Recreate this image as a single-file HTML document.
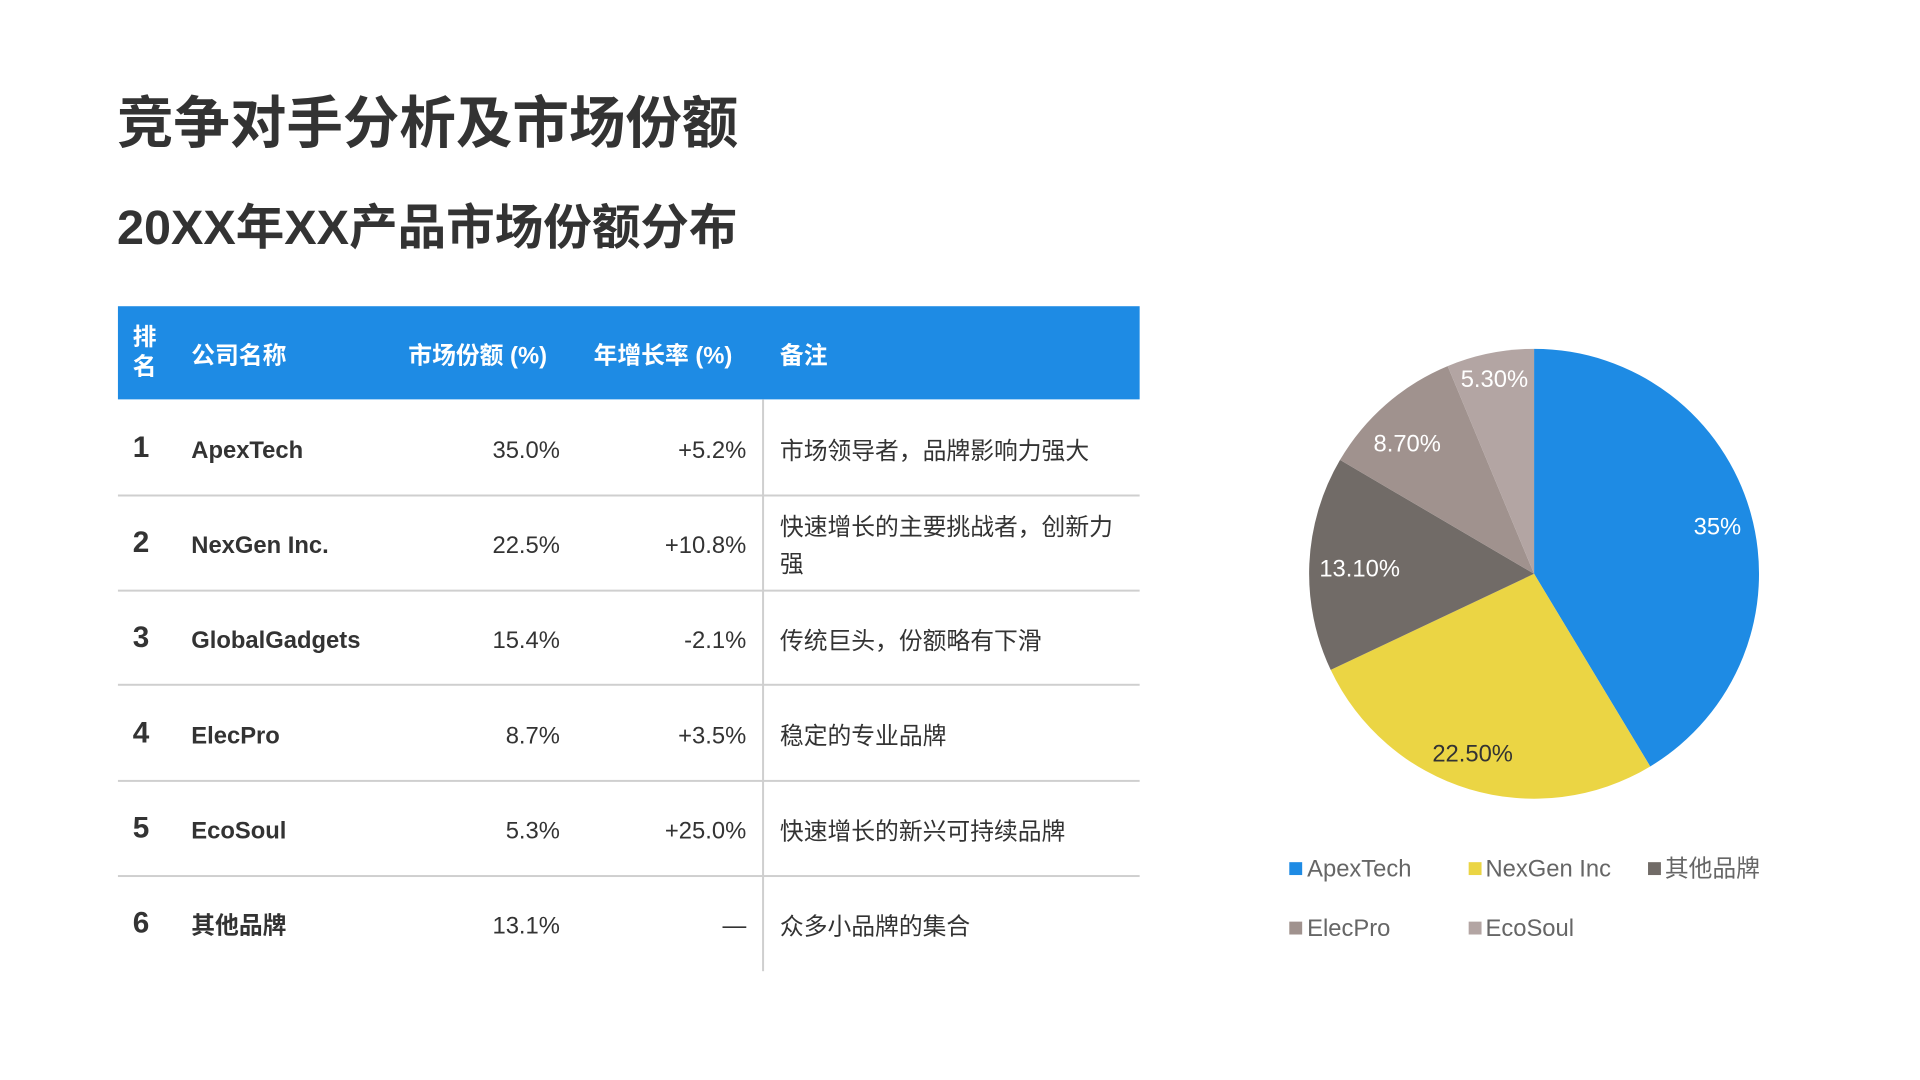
<!DOCTYPE html>
<html><head><meta charset="utf-8"><style>
*{margin:0;padding:0;box-sizing:border-box}
body{width:1920px;height:1080px;background:#fff;position:relative;overflow:hidden;font-family:"Liberation Sans","Noto Sans CJK SC",sans-serif;color:#333}
#w{position:absolute;left:0;top:0;width:1920px;height:1080px;transform:scale(0.991);transform-origin:0 0}
.a{position:absolute;white-space:nowrap}
.t1{left:118px;top:90px;font-size:57px;font-weight:bold;line-height:70px}
.t2{left:118px;top:202px;font-size:49px;font-weight:bold;line-height:56px}
.hdr{position:absolute;left:119px;top:309px;width:1031px;height:94px;background:#1e8be4}
.h{color:#fff;font-weight:bold;font-size:24px;line-height:30px}
.line{position:absolute;left:119px;width:1031px;height:2px;background:#cfcfcf}
.vl{position:absolute;left:769px;top:403px;width:1.5px;height:577px;background:#cfcfcf}
.rk{font-size:30px;font-weight:bold;line-height:36px}
.nm{font-size:24px;font-weight:bold;line-height:30px}
.num{font-size:24px;line-height:30px;text-align:right;width:150px}
.nt{font-size:24px;line-height:37px}
</style></head><body><div id="w">
<div class="a t1">竞争对手分析及市场份额</div>
<div class="a t2">20XX年XX产品市场份额分布</div>
<div class="hdr"></div>
<div class="a h" style="left:134px;top:326px;line-height:30px">排<br>名</div>
<div class="a h" style="left:193px;top:345px">公司名称</div>
<div class="a h" style="left:412px;top:345px">市场份额 (%)</div>
<div class="a h" style="left:599px;top:345px">年增长率 (%)</div>
<div class="a h" style="left:787px;top:345px">备注</div>
<div class="vl"></div>
<div class="line" style="top:499px"></div>
<div class="line" style="top:595px"></div>
<div class="line" style="top:690px"></div>
<div class="line" style="top:787px"></div>
<div class="line" style="top:883px"></div>

<div class="a rk" style="left:134px;top:434px">1</div>
<div class="a nm" style="left:193px;top:440px">ApexTech</div>
<div class="a num" style="left:415px;top:440px">35.0%</div>
<div class="a num" style="left:603px;top:440px">+5.2%</div>
<div class="a nt" style="left:787px;top:437px">市场领导者，品牌影响力强大</div>

<div class="a rk" style="left:134px;top:530px">2</div>
<div class="a nm" style="left:193px;top:536px">NexGen Inc.</div>
<div class="a num" style="left:415px;top:536px">22.5%</div>
<div class="a num" style="left:603px;top:536px">+10.8%</div>
<div class="a nt" style="left:787px;top:514px">快速增长的主要挑战者，创新力<br>强</div>

<div class="a rk" style="left:134px;top:626px">3</div>
<div class="a nm" style="left:193px;top:632px">GlobalGadgets</div>
<div class="a num" style="left:415px;top:632px">15.4%</div>
<div class="a num" style="left:603px;top:632px">-2.1%</div>
<div class="a nt" style="left:787px;top:629px">传统巨头，份额略有下滑</div>

<div class="a rk" style="left:134px;top:722px">4</div>
<div class="a nm" style="left:193px;top:728px">ElecPro</div>
<div class="a num" style="left:415px;top:728px">8.7%</div>
<div class="a num" style="left:603px;top:728px">+3.5%</div>
<div class="a nt" style="left:787px;top:725px">稳定的专业品牌</div>

<div class="a rk" style="left:134px;top:818px">5</div>
<div class="a nm" style="left:193px;top:824px">EcoSoul</div>
<div class="a num" style="left:415px;top:824px">5.3%</div>
<div class="a num" style="left:603px;top:824px">+25.0%</div>
<div class="a nt" style="left:787px;top:821px">快速增长的新兴可持续品牌</div>

<div class="a rk" style="left:134px;top:914px">6</div>
<div class="a nm" style="left:193px;top:920px">其他品牌</div>
<div class="a num" style="left:415px;top:920px">13.1%</div>
<div class="a num" style="left:603px;top:920px">—</div>
<div class="a nt" style="left:787px;top:917px">众多小品牌的集合</div>

<svg class="a" style="left:0;top:0" width="1920" height="1080">
<g stroke="none">
<path d="M1548,579 L1548,352 A227,227 0 0 1 1665.2,773.4 Z" fill="#1e8be4"/>
<path d="M1548,579 L1665.2,773.4 A227,227 0 0 1 1342.8,676.0 Z" fill="#ebd544"/>
<path d="M1548,579 L1342.8,676.0 A227,227 0 0 1 1352.2,464.1 Z" fill="#716b67"/>
<path d="M1548,579 L1352.2,464.1 A227,227 0 0 1 1460.8,369.4 Z" fill="#a0928e"/>
<path d="M1548,579 L1460.8,369.4 A227,227 0 0 1 1548,352 Z" fill="#b3a5a3"/>
</g>
<g font-family="Liberation Sans, sans-serif" font-size="24" text-anchor="middle" dominant-baseline="central">
<text x="1733" y="532" fill="#fff">35%</text>
<text x="1486" y="761" fill="#333">22.50%</text>
<text x="1372" y="574" fill="#fff">13.10%</text>
<text x="1420" y="448" fill="#fff">8.70%</text>
<text x="1508" y="383" fill="#fff">5.30%</text>
</g>
<rect x="1301" y="870" width="13" height="13" fill="#1e8be4"/>
<rect x="1482" y="870" width="13" height="13" fill="#ebd544"/>
<rect x="1663" y="870" width="13" height="13" fill="#716b67"/>
<rect x="1301" y="930" width="13" height="13" fill="#a0928e"/>
<rect x="1482" y="930" width="13" height="13" fill="#b3a5a3"/>
<g font-family="Liberation Sans, Noto Sans CJK SC, sans-serif" font-size="24" fill="#666" dominant-baseline="central">
<text x="1319" y="877">ApexTech</text>
<text x="1499" y="877">NexGen Inc</text>
<text x="1680" y="877">其他品牌</text>
<text x="1319" y="937">ElecPro</text>
<text x="1499" y="937">EcoSoul</text>
</g>
</svg>
</div></body></html>
